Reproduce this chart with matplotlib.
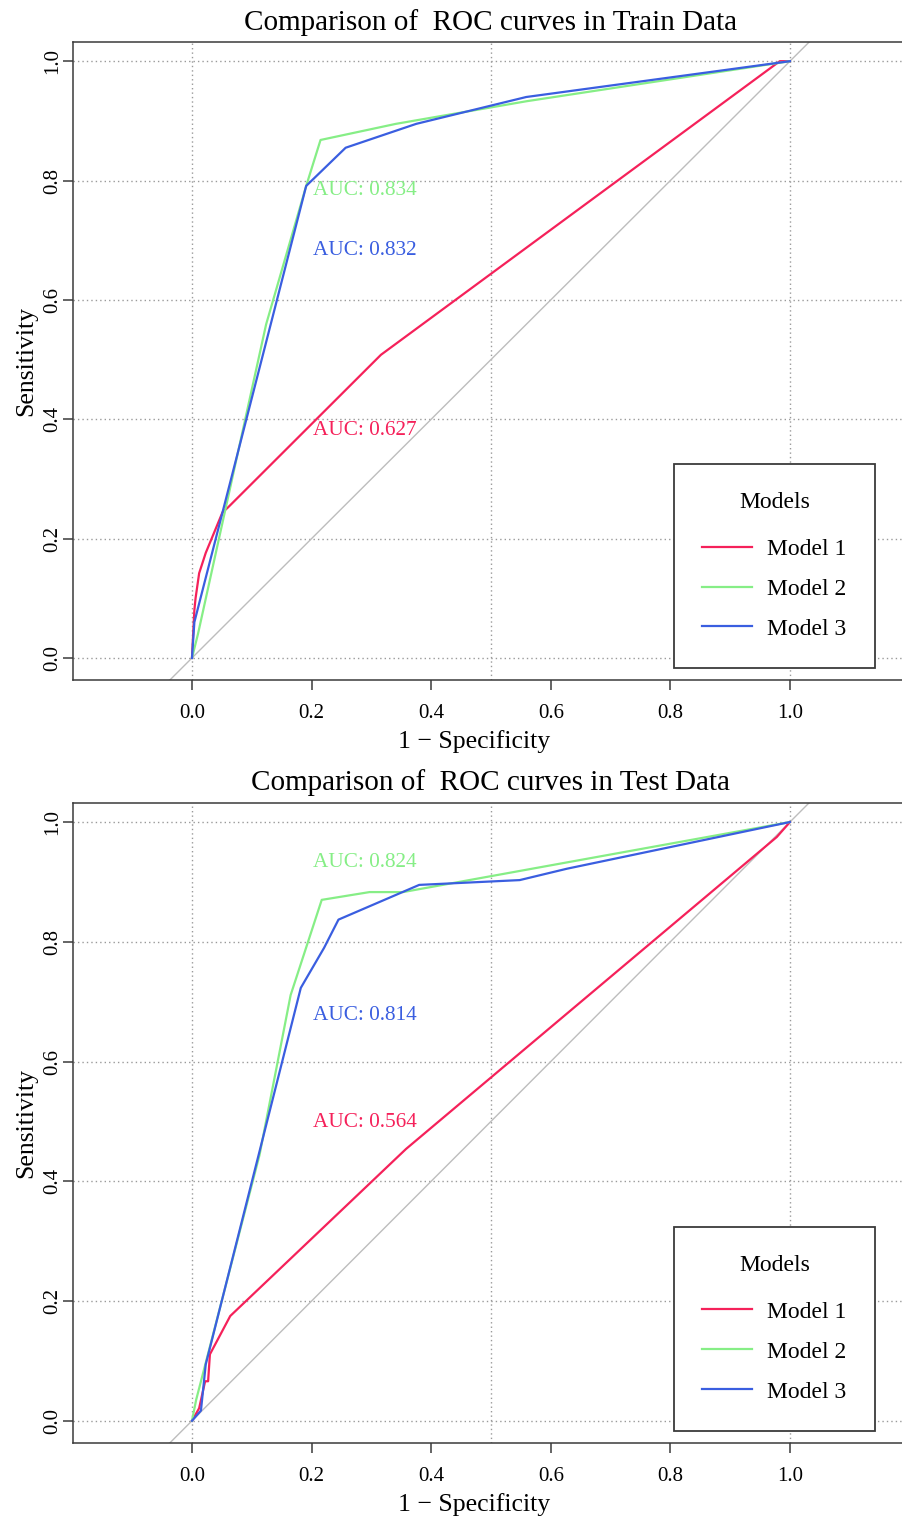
import matplotlib
matplotlib.use("Agg")
import matplotlib.pyplot as plt


plt.rcParams["font.family"] = ["Liberation Serif", "DejaVu Serif"]

MODEL_NAMES = ["Model 1", "Model 2", "Model 3"]
MODEL_COLORS = ["#F5215A", "#86EE86", "#3A5EE0"]

# train data ROC points (1 - specificity, sensitivity)
TRAIN_M1_FPR = [0.0, 0.004, 0.006, 0.012, 0.023, 0.051, 0.060, 0.316, 0.983, 1.0]
TRAIN_M1_TPR = [0.0, 0.08, 0.10, 0.142, 0.176, 0.244, 0.252, 0.508, 1.0, 1.0]
TRAIN_M2_FPR = [0.0, 0.01, 0.124, 0.191, 0.215, 0.341, 0.56, 1.0]
TRAIN_M2_TPR = [0.0, 0.04, 0.559, 0.791, 0.868, 0.895, 0.933, 1.0]
TRAIN_M3_FPR = [0.0, 0.004, 0.191, 0.257, 0.375, 0.559, 1.0]
TRAIN_M3_TPR = [0.0, 0.06, 0.791, 0.855, 0.895, 0.940, 1.0]
TRAIN_AUC = ["0.627", "0.834", "0.832"]
TRAIN_AUC_Y = [0.382, 0.784, 0.683]

# test data ROC points
TEST_M1_FPR = [0.0, 0.012, 0.022, 0.027, 0.030, 0.064, 0.358, 0.978, 1.0]
TEST_M1_TPR = [0.0, 0.021, 0.066, 0.066, 0.111, 0.175, 0.454, 0.975, 1.0]
TEST_M2_FPR = [0.0, 0.007, 0.113, 0.165, 0.217, 0.297, 0.353, 1.0]
TEST_M2_TPR = [0.0, 0.035, 0.444, 0.711, 0.870, 0.883, 0.883, 1.0]
TEST_M3_FPR = [0.0, 0.015, 0.023, 0.182, 0.221, 0.245, 0.38, 0.548, 0.627, 1.0]
TEST_M3_TPR = [0.0, 0.017, 0.094, 0.723, 0.79, 0.837, 0.895, 0.903, 0.922, 1.0]
TEST_AUC = ["0.564", "0.824", "0.814"]
TEST_AUC_Y = [0.498, 0.933, 0.677]

AUC_X = 0.202
TICKS = [0.0, 0.2, 0.4, 0.6, 0.8, 1.0]
TICK_LABELS = ["0.0", "0.2", "0.4", "0.6", "0.8", "1.0"]

SPINE_COLOR = "#3a3a3a"


def draw_roc(ax, curves, auc_values, auc_y, title):
	ax.set_xlim(-0.199, 1.199)
	ax.set_ylim(-0.037, 1.032)

	# dotted grid like R's grid()
	for y in TICKS:
		ax.axhline(y, color="#9a9a9a", lw=1.0, ls=(0, (1, 2.2)), zorder=0)
	for x in [0.0, 0.5, 1.0]:
		ax.axvline(x, color="#9a9a9a", lw=1.0, ls=(0, (1, 2.2)), zorder=0)

	ax.plot([-0.3, 1.3], [-0.3, 1.3], color="#bdbdbd", lw=1.0, zorder=1)

	lines = []
	for (fpr, tpr), color, name in zip(curves, MODEL_COLORS, MODEL_NAMES):
		(ln,) = ax.plot(fpr, tpr, color=color, lw=1.6, label=name, zorder=3)
		lines.append(ln)

	for val, y, color in zip(auc_values, auc_y, MODEL_COLORS):
		ax.text(AUC_X, y, f"AUC: {val}", color=color, fontsize=15.3, ha="left", va="center", zorder=4)

	ax.set_xticks(TICKS)
	ax.set_xticklabels(TICK_LABELS)
	ax.set_yticks(TICKS)
	ax.set_yticklabels(TICK_LABELS, rotation=90, va="center")
	ax.tick_params(axis="both", direction="out", length=7, width=1.1, color=SPINE_COLOR, labelsize=15)
	ax.tick_params(axis="x", pad=10)
	ax.tick_params(axis="y", pad=0.5)

	for side in ["left", "bottom", "top", "right"]:
		ax.spines[side].set_color(SPINE_COLOR)
		ax.spines[side].set_linewidth(1.1)

	ax.set_xlabel("1 \u2212 Specificity", fontsize=18.5)
	ax.xaxis.set_label_coords(0.48, -0.079)
	ax.set_ylabel("Sensitivity", fontsize=18.5)
	ax.yaxis.set_label_coords(-0.043, 0.5)
	ax.set_title(title, fontsize=21, pad=9)

	leg = ax.legend(
		handles=lines,
		title="Models",
		loc="lower right",
		bbox_to_anchor=(0.9593, 0.0188),
		fontsize=17,
		title_fontsize=17,
		frameon=True,
		fancybox=False,
		framealpha=1.0,
		edgecolor=SPINE_COLOR,
		handlelength=2.1,
		handletextpad=0.65,
		labelspacing=0.78,
		borderpad=1.2,
		borderaxespad=0.0,
	)
	leg.get_frame().set_linewidth(1.3)
	leg._legend_box.sep = 18


def main():
	fig = plt.figure(figsize=(9.02, 15.2), dpi=100)
	ax_train = fig.add_axes([0.0809, 0.5526, 0.9268, 0.4197])
	ax_test = fig.add_axes([0.0809, 0.0507, 0.9268, 0.4211])

	train_curves = [
		(TRAIN_M1_FPR, TRAIN_M1_TPR),
		(TRAIN_M2_FPR, TRAIN_M2_TPR),
		(TRAIN_M3_FPR, TRAIN_M3_TPR),
	]
	test_curves = [
		(TEST_M1_FPR, TEST_M1_TPR),
		(TEST_M2_FPR, TEST_M2_TPR),
		(TEST_M3_FPR, TEST_M3_TPR),
	]

	draw_roc(ax_train, train_curves, TRAIN_AUC, TRAIN_AUC_Y, "Comparison of  ROC curves in Train Data")
	draw_roc(ax_test, test_curves, TEST_AUC, TEST_AUC_Y, "Comparison of  ROC curves in Test Data")

	fig.savefig("out.png", dpi=100)
	plt.close(fig)


if __name__ == "__main__":
	main()
